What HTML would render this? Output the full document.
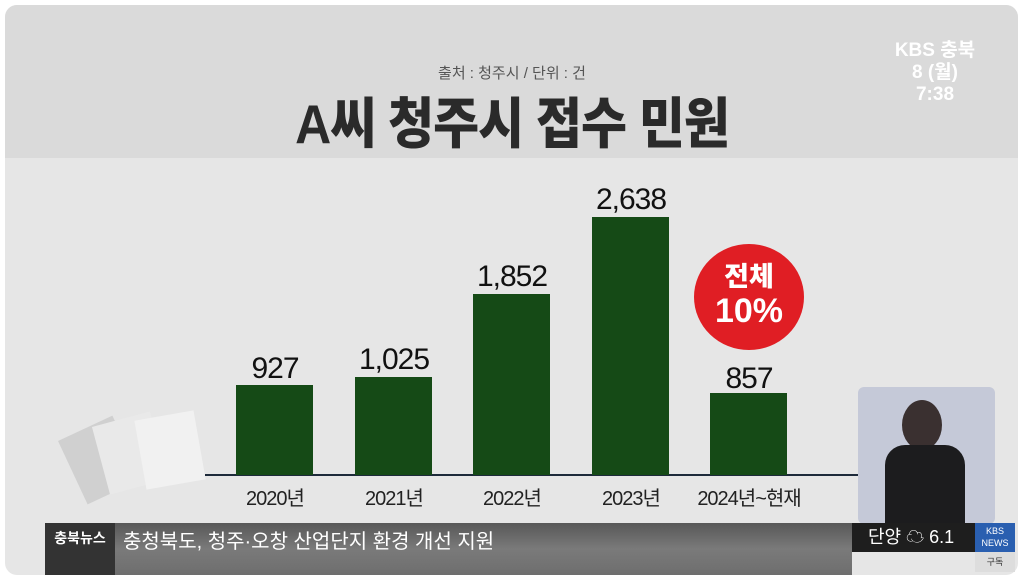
<!DOCTYPE html>
<html><head><meta charset="utf-8"><style>
body{margin:0;width:1024px;height:580px;background:#fff;position:relative;overflow:hidden;font-family:"Liberation Sans","Noto Sans CJK KR",sans-serif}
div{position:absolute}
.bar{background:#154a16;width:77px}
.v{font-size:30px;color:#111;width:140px;text-align:center;letter-spacing:-1px}
.l{font-size:20px;color:#222;width:160px;text-align:center;top:482px;letter-spacing:-1px}
</style></head><body>
<div style="left:5px;top:5px;width:1013px;height:570px;border-radius:12px;background:#e6e6e6;overflow:hidden">
 <div style="left:0;top:0;width:1013px;height:153px;background:#dadada"></div>
</div>
<div style="left:0;top:62px;width:1024px;text-align:center;font-size:15px;color:#555">출처 : 청주시 / 단위 : 건</div>
<div style="left:0;top:84px;width:1024px;text-align:center;font-size:50px;font-weight:900;color:#2a2a2a;letter-spacing:-1px;transform:scaleY(1.1)">A씨 청주시 접수 민원</div>
<div style="left:880px;top:40px;width:110px;text-align:center;color:#fff;font-size:19px;line-height:22px;font-weight:bold">KBS 충북<br>8 (월)<br>7:38</div>
<div style="left:205px;top:474px;width:653px;height:2px;background:#1d2a3a"></div>
<div class="bar" style="left:236px;top:385px;height:90px"></div>
<div class="bar" style="left:355px;top:377px;height:98px"></div>
<div class="bar" style="left:473px;top:294px;height:181px"></div>
<div class="bar" style="left:592px;top:217px;height:258px"></div>
<div class="bar" style="left:710px;top:393px;height:82px"></div>
<div class="v" style="left:205px;top:352px">927</div>
<div class="v" style="left:324px;top:343px">1,025</div>
<div class="v" style="left:442px;top:260px">1,852</div>
<div class="v" style="left:561px;top:183px">2,638</div>
<div class="v" style="left:679px;top:362px">857</div>
<div class="l" style="left:195px">2020년</div>
<div class="l" style="left:314px">2021년</div>
<div class="l" style="left:432px">2022년</div>
<div class="l" style="left:551px">2023년</div>
<div class="l" style="left:669px">2024년~현재</div>
<div style="left:694px;top:244px;width:110px;height:90px;padding-top:16px;border-radius:50%;background:#e01e24;color:#fff;text-align:center;font-weight:900;font-size:27px;line-height:34px">전체<br><span style="font-size:34px">10%</span></div>
<div style="left:70px;top:425px;width:60px;height:70px;background:#d0d0d0;transform:rotate(-25deg)"></div>
<div style="left:100px;top:418px;width:60px;height:70px;background:#e9e9e9;transform:rotate(-15deg)"></div>
<div style="left:140px;top:415px;width:60px;height:70px;background:#f1f1f1;transform:rotate(-10deg)"></div>
<div style="left:858px;top:387px;width:137px;height:137px;background:#c5c9d8;border-radius:6px"></div>
<div style="left:902px;top:400px;width:40px;height:50px;border-radius:50%;background:#3a3030"></div>
<div style="left:885px;top:445px;width:80px;height:80px;background:#1c1c1e;border-radius:20px 20px 0 0"></div>
<div style="left:45px;top:523px;width:807px;height:52px;background:linear-gradient(#585858,#7a7a7a 50%,#6e6e6e)"></div>
<div style="left:45px;top:523px;width:70px;height:52px;background:#333"></div>
<div style="left:45px;top:528px;width:70px;text-align:center;color:#fff;font-size:14px;font-weight:bold">충북뉴스</div>
<div style="left:123px;top:525px;color:#fff;font-size:20px">충청북도, 청주·오창 산업단지 환경 개선 지원</div>
<div style="left:852px;top:523px;width:123px;height:29px;background:#1e1e1e;color:#fff;font-size:18px;line-height:29px;padding-left:16px">단양 ☁ 6.1</div>
<div style="left:975px;top:523px;width:40px;height:29px;background:#2a5fb0;color:#fff;font-size:9px;text-align:center;line-height:12px;padding-top:2px">KBS<br>NEWS</div>
<div style="left:975px;top:552px;width:40px;height:20px;background:#ddd;font-size:9px;text-align:center;line-height:20px;color:#333">구독</div>
</body></html>
